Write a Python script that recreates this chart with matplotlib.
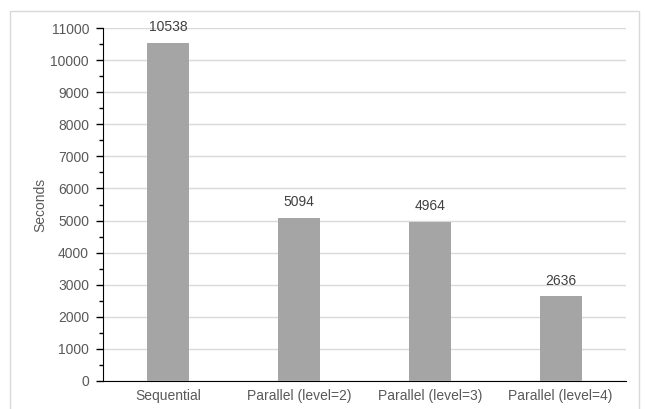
import matplotlib.pyplot as plt
from matplotlib.patches import Rectangle
from matplotlib.ticker import MultipleLocator

plt.rcParams['font.family'] = ['Liberation Sans', 'DejaVu Sans']

# run times for each mode
modes = ['Sequential', 'Parallel (level=2)', 'Parallel (level=3)', 'Parallel (level=4)']
seconds = [10538, 5094, 4964, 2636]

fig = plt.figure(figsize=(6.46, 4.09), dpi=100)
ax = fig.add_axes([0.1594, 0.0685, 0.8096, 0.863])

# outer chart frame
fig.patches.append(Rectangle((10 / 646, -0.05), 629 / 646, 1.05 - 11 / 409,
                             transform=fig.transFigure, fill=False,
                             edgecolor='#D9D9D9', linewidth=1))

x_pos = range(len(modes))
bars = ax.bar(x_pos, seconds, width=0.32, color='#A5A5A5', zorder=3)
for b, v in zip(bars, seconds):
    ax.text(b.get_x() + b.get_width() / 2, v + 260, str(v),
            ha='center', va='bottom', fontsize=10, color='#404040')

ax.set_xlim(-0.5, 3.5)
ax.set_ylim(0, 11000)
ax.yaxis.set_major_locator(MultipleLocator(1000))
ax.yaxis.set_minor_locator(MultipleLocator(500))
ax.set_xticks(list(x_pos))
ax.set_xticklabels(modes)
ax.tick_params(axis='x', length=0, pad=6, labelsize=10, labelcolor='#595959')
ax.tick_params(axis='y', which='major', length=5, width=1, pad=5,
               labelsize=10, labelcolor='#595959')
ax.tick_params(axis='y', which='minor', length=3, width=1)
ax.grid(axis='y', color='#D9D9D9', linewidth=1, zorder=0)

for s in ['top', 'right']:
    ax.spines[s].set_visible(False)
ax.spines['left'].set_color('black')
ax.spines['bottom'].set_color('black')

ax.set_ylabel('Seconds', fontsize=10, color='#595959')
ax.yaxis.set_label_coords(-0.107, 0.5)

plt.savefig('out.png', dpi=100)
